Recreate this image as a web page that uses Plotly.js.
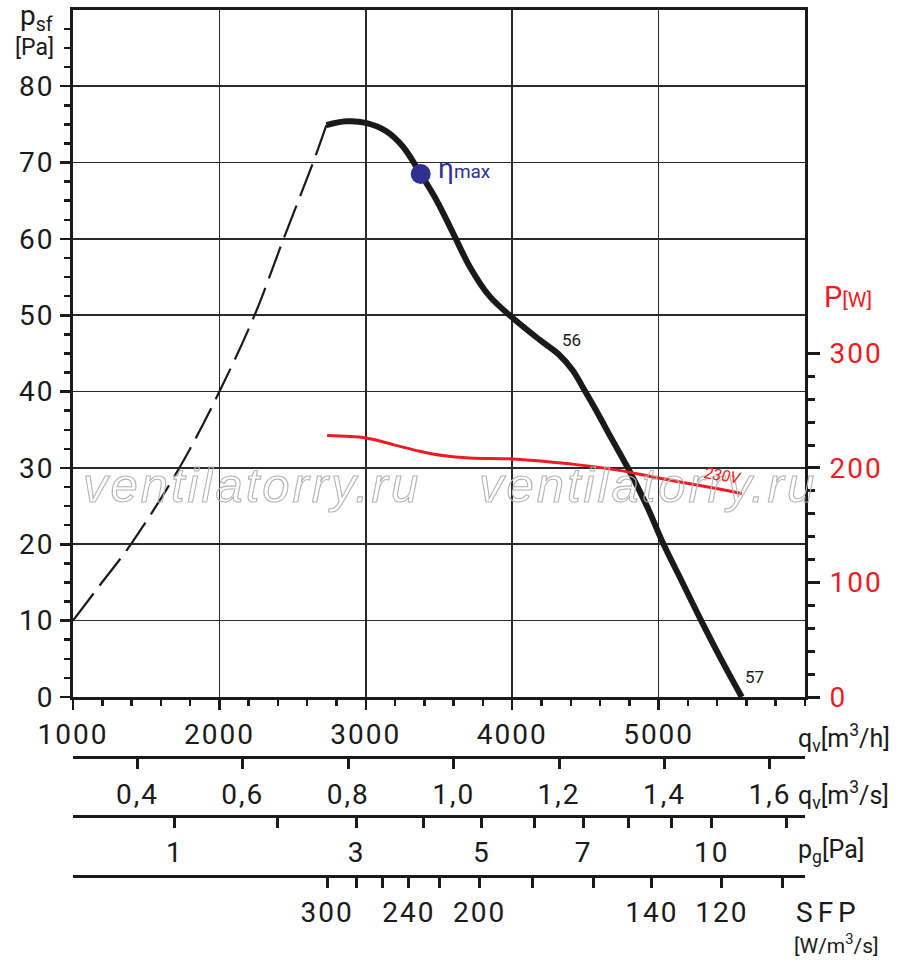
<!DOCTYPE html>
<html><head><meta charset="utf-8">
<script src="https://cdn.plot.ly/plotly-3.0.1.min.js"></script>
<style>
html,body{margin:0;padding:0;background:#fff;}
#chart{width:900px;height:967px;}
.xtick text,.x2tick text,.x3tick text,.x4tick text,.ytick text,.y2tick text{letter-spacing:2px;}
g.annotation[data-index="0"] text.annotation-text,
g.annotation[data-index="1"] text.annotation-text{fill:none !important;stroke:#b4b4b4;stroke-width:1.1px;}
</style></head><body><div id="chart"></div>
<script>
// ---- data ----
const qvDashed   = [1000, 1178, 1395, 1726, 2000, 2240, 2438, 2640, 2731];
const psfDashed  = [10, 14.5, 20, 30, 40, 50, 60, 70, 74.9];

const qvCurve  = [2731, 2867, 3000, 3140, 3253, 3375, 3482, 3595, 3709, 3845, 4000, 4186, 4322, 4413, 4493, 4583, 4674, 4790, 4920, 5034, 5160, 5291, 5420, 5568];
const psfCurve = [74.9, 75.4, 75.2, 74.1, 72.1, 68.5, 65.1, 60.8, 56.4, 52.5, 49.7, 46.8, 44.8, 42.8, 40.2, 37.2, 34.0, 30.0, 25.0, 20.0, 15.1, 10.0, 5.2, 0];

const qvPower = [2736, 3000, 3186, 3368, 3527, 3709, 4000, 4209, 4436, 4731, 5000, 5414, 5568];
const powerW  = [228.3, 226.2, 220.4, 214.6, 210.8, 208.7, 207.9, 205.8, 202.9, 197.9, 191.2, 181.6, 177.6];

const etaMaxQv = [3375];
const etaMaxPsf = [68.5];

// axis ticks
const qvHourTicks = [1000, 2000, 3000, 4000, 5000];
const psfTicks = [0, 10, 20, 30, 40, 50, 60, 70, 80];
const powerTicks = [0, 100, 200, 300];
const powerMinorTicks = [20, 40, 60, 80, 120, 140, 160, 180, 220, 240, 260, 280];
const qvSecTicks = [0.4, 0.6, 0.8, 1.0, 1.2, 1.4, 1.6];
const qvSecLabels = ['0,4', '0,6', '0,8', '1,0', '1,2', '1,4', '1,6'];
const pgTicks  = [1, 2, 3, 4, 5, 6, 7, 8, 9, 10, 12];
const pgLabels = ['1', '', '3', '', '5', '', '7', '', '', '10', ''];
const pgQvAtOnePa = 1696; // m3/h where pg = 1 Pa
const sfpTickQv = [2736, 2937, 3111, 3294, 3505, 3778, 4138, 4552, 4954, 5432, 5848];
const sfpLabels = ['300', '', '', '240', '', '200', '', '', '140', '120', ''];

// ---- layout geometry ----
const W = 900, H = 967, ML = 73, MR = 95, MT = 10, MB = 0;
const PW = W - ML - MR, PH = H - MT - MB;
const fx = px => (px - ML) / PW;
const fy = py => (H - MB - py) / PH;

const RED = '#ed1c24', BLUE = '#2e3192', INK = '#1a1a1a';
const FONT = 'Roboto, "DejaVu Sans", sans-serif';
const tickFont = {family: FONT, size: 28, color: INK};

const traces = [
  {x: qvDashed, y: psfDashed, mode: 'lines', line: {color: INK, width: 2.2, dash: '34px,10px', shape: 'spline', smoothing: 1}, hoverinfo: 'skip'},
  {x: qvCurve, y: psfCurve, mode: 'lines', line: {color: INK, width: 6, shape: 'spline', smoothing: 1}, hoverinfo: 'skip'},
  {x: qvPower, y: powerW, yaxis: 'y2', mode: 'lines', line: {color: RED, width: 3, shape: 'spline', smoothing: 1}, hoverinfo: 'skip'},
  {x: etaMaxQv, y: etaMaxPsf, mode: 'markers', marker: {color: BLUE, size: 20}, hoverinfo: 'skip'},
  {x: [null], y: [null], xaxis: 'x2', mode: 'lines', hoverinfo: 'skip'},
  {x: [null], y: [null], xaxis: 'x3', mode: 'lines', hoverinfo: 'skip'},
  {x: [null], y: [null], xaxis: 'x4', mode: 'lines', hoverinfo: 'skip'}
];

const xRange = [1000, 5999.9];
const extraAxis = (pos, vals, text, standoff) => ({
  overlaying: 'x', anchor: 'free', position: pos, range: xRange, domain: [0, 1],
  showline: true, linewidth: 3, linecolor: INK, showgrid: false, zeroline: false,
  tickmode: 'array', tickvals: vals, ticktext: text,
  ticks: 'outside', ticklen: 10, tickwidth: 3, tickcolor: INK,
  tickfont: tickFont, ticklabelstandoff: standoff
});

const ann = (px, py, text, font, extra) => Object.assign({
  xref: 'paper', yref: 'paper', x: fx(px), y: fy(py), xanchor: 'center', yanchor: 'middle',
  showarrow: false, text: text, font: font
}, extra || {});

const WM = {family: '"Liberation Sans", sans-serif', size: 49, style: 'italic', color: '#b4b4b4'};
const WM_TEXT = '<span style="letter-spacing:3px">ventilatorry.ru</span>';

const layout = {
  width: W, height: H, showlegend: false,
  paper_bgcolor: '#fff', plot_bgcolor: '#fff',
  margin: {l: ML, r: MR, t: MT, b: MB, pad: 0},
  xaxis: {
    range: xRange, domain: [0, 1], anchor: 'y',
    tickmode: 'array', tickvals: qvHourTicks,
    showline: true, linewidth: 3, linecolor: INK, mirror: true,
    showgrid: true, gridcolor: '#2a2a2a', gridwidth: 1.6, zeroline: false,
    ticks: 'outside', ticklen: 10, tickwidth: 2.5, tickcolor: INK,
    minor: {dtick: 200, tick0: 1000, ticks: 'outside', ticklen: 6, tickwidth: 2.5, tickcolor: INK, showgrid: false},
    tickfont: tickFont, ticklabelstandoff: 0
  },
  xaxis2: extraAxis(fy(757), qvSecTicks.map(v => v * 3600), qvSecLabels, 1),
  xaxis3: extraAxis(fy(816), pgTicks.map(v => pgQvAtOnePa * Math.sqrt(v)), pgLabels, 0),
  xaxis4: extraAxis(fy(876), sfpTickQv, sfpLabels, 0),
  yaxis: {
    range: [0, 89.98], domain: [fy(697), 1], anchor: 'x',
    tickmode: 'array', tickvals: psfTicks,
    showline: true, linewidth: 3, linecolor: INK, mirror: true,
    showgrid: true, gridcolor: '#2a2a2a', gridwidth: 1.6, zeroline: false,
    ticks: 'outside', ticklen: 10, tickwidth: 2.5, tickcolor: INK,
    minor: {dtick: 2.5, tick0: 0, ticks: 'outside', ticklen: 6, tickwidth: 2.5, tickcolor: INK, showgrid: false},
    tickfont: tickFont, ticklabelstandoff: 0
  },
  yaxis2: {
    overlaying: 'y', side: 'right', anchor: 'x', range: [0, 599.87],
    tickmode: 'array', tickvals: powerTicks,
    showline: true, linewidth: 3, linecolor: INK, showgrid: false, zeroline: false,
    ticks: 'outside', ticklen: 12, tickwidth: 3, tickcolor: INK,
    minor: {tickmode: 'array', tickvals: powerMinorTicks, ticks: 'outside', ticklen: 7, tickwidth: 3, tickcolor: INK, showgrid: false},
    tickfont: {family: FONT, size: 28, color: RED}, ticklabelstandoff: 4
  },
  annotations: [
    // watermarks (outlined via CSS)
    ann(252, 485, WM_TEXT, WM),
    ann(648, 485, WM_TEXT, WM),
    // left axis title
    ann(18, 18, 'p<sub>sf</sub>', {family: FONT, size: 28, color: INK}, {xanchor: 'left'}),
    ann(13, 47, '[Pa]', {family: FONT, size: 23, color: INK}, {xanchor: 'left'}),
    // right axis title
    ann(822, 297, 'P<span style="font-size:21px">[W]</span>', {family: FONT, size: 29, color: RED}, {xanchor: 'left'}),
    // bottom scale titles
    ann(796, 738, 'q<sub>v</sub>[m<sup>3</sup>/h]', {family: FONT, size: 25, color: INK}, {xanchor: 'left'}),
    ann(796, 795, 'q<sub>v</sub>[m<sup>3</sup>/s]', {family: FONT, size: 25, color: INK}, {xanchor: 'left'}),
    ann(796, 851, 'p<sub>g</sub>[Pa]', {family: FONT, size: 25, color: INK}, {xanchor: 'left'}),
    ann(794, 912, '<span style="letter-spacing:5px">SFP</span>', {family: FONT, size: 28, color: INK}, {xanchor: 'left'}),
    ann(792, 944, '[W/m<sup>3</sup>/s]', {family: FONT, size: 21, color: INK}, {xanchor: 'left'}),
    // curve labels
    ann(436, 168, 'η<span style="font-size:19px">max</span>', {family: FONT, size: 28, color: BLUE}, {xanchor: 'left'}),
    ann(571, 340, '56', {family: FONT, size: 17, color: INK}),
    ann(754, 677, '57', {family: FONT, size: 17, color: INK}),
    ann(722, 476, '230V', {family: FONT, size: 16, color: RED, style: 'italic'}, {textangle: 9})
  ]
};

Plotly.newPlot('chart', traces, layout, {staticPlot: true, displayModeBar: false});
</script></body></html>
